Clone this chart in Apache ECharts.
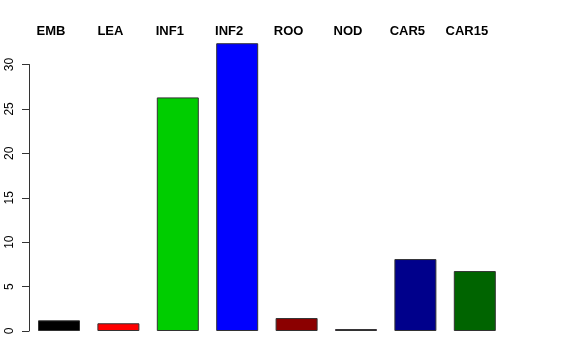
<!DOCTYPE html>
<html>
<head>
<meta charset="utf-8">
<script src="https://cdn.jsdelivr.net/npm/echarts@6/dist/echarts.min.js"></script>
<style>html,body{margin:0;padding:0;background:#fff;}#c{width:576px;height:360px;}</style>
</head>
<body>
<div id="c"></div>
<script>
var categories = ['EMB', 'LEA', 'INF1', 'INF2', 'ROO', 'NOD', 'CAR5', 'CAR15'];
var values = [1.2, 0.87, 26.3, 32.4, 1.46, 0.22, 8.1, 6.75];
var barColors = ['#000000', '#FF0000', '#00CD00', '#0000FF', '#8B0000', '#8B008B', '#00008B', '#006400'];
var yTicks = [0, 5, 10, 15, 20, 25, 30];

var chart = echarts.init(document.getElementById('c'), null, {renderer: 'canvas'});
var font = '"Liberation Sans", Arial, Helvetica, sans-serif';
chart.setOption({
  animation: false,
  backgroundColor: '#ffffff',
  grid: [
    {left: 29.3, width: 475.2, top: 37.9, bottom: 29},
    {left: 29, width: 10, top: 64.5, bottom: 29},
    {left: 21.3, width: 475.2, top: 45, height: 10}
  ],
  xAxis: [
    {type: 'category', gridIndex: 0, data: categories, boundaryGap: true,
     axisLine: {show: false}, axisTick: {show: false}, axisLabel: {show: false}, splitLine: {show: false}},
    {type: 'value', gridIndex: 1, show: false},
    {type: 'category', gridIndex: 2, data: categories, position: 'top', boundaryGap: true,
     axisLine: {show: false}, axisTick: {show: false}, splitLine: {show: false},
     axisLabel: {show: true, interval: 0, margin: 7, color: '#000', fontWeight: 'bold', fontSize: 13, fontFamily: font}}
  ],
  yAxis: [
    {type: 'value', gridIndex: 0, min: 0, max: 33, show: false},
    {type: 'value', gridIndex: 1, min: yTicks[0], max: yTicks[yTicks.length - 1], interval: 5,
     axisLine: {show: true, lineStyle: {color: '#333', width: 1}},
     axisTick: {show: true, length: 7, lineStyle: {color: '#333', width: 1}},
     splitLine: {show: false},
     axisLabel: {show: true, rotate: 90, margin: 13, color: '#000', fontSize: 12, fontFamily: font}},
    {type: 'value', gridIndex: 2, show: false}
  ],
  series: [
    {type: 'bar', xAxisIndex: 0, yAxisIndex: 0, barWidth: 42,
     data: values.map(function (v, i) {
       return {value: v, itemStyle: {color: barColors[i]}};
     }),
     itemStyle: {borderColor: '#333', borderWidth: 1}
    }
  ]
});
</script>
</body>
</html>
